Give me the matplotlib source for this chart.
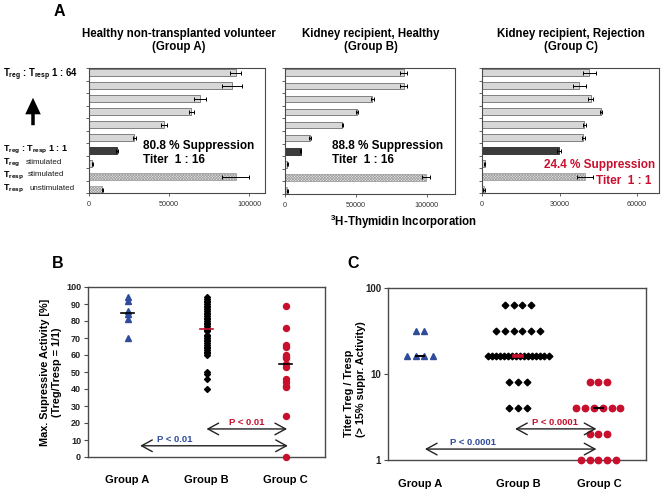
import numpy as np
import matplotlib
matplotlib.use('Agg')
import matplotlib.pyplot as plt
from matplotlib.patches import FancyArrowPatch

plt.rcParams['font.family'] = ['Liberation Sans', 'DejaVu Sans']
plt.rcParams['mathtext.fontset'] = 'custom'
plt.rcParams['mathtext.rm'] = 'Liberation Sans'
plt.rcParams['mathtext.bf'] = 'Liberation Sans:bold'
plt.rcParams['mathtext.it'] = 'Liberation Sans:italic'
plt.rcParams['hatch.linewidth'] = 0.5

# ---------------- data ----------------
row_names = ['1:64', '1:32', '1:16', '1:8', '1:4', '1:2', '1:1',
             'Treg stimulated', 'Tresp stimulated', 'Tresp unstimulated']
cpm_groupA = [91600, 89500, 69200, 63900, 47000, 28300, 17600, 2100, 91600, 8400]
err_groupA = [3600, 6300, 3700, 1500, 2000, 1000, 500, 300, 8700, 300]
cpm_groupB = [83800, 83800, 61600, 50800, 40500, 17600, 11000, 1600, 99500, 1600]
err_groupB = [2500, 2500, 1000, 500, 500, 500, 500, 300, 2500, 300]
cpm_groupC = [41600, 37700, 42100, 46000, 39600, 39200, 29900, 1000, 39900, 800]
err_groupC = [2500, 2500, 1000, 300, 500, 500, 800, 300, 3100, 300]

panelA_titles = [("Healthy non-transplanted volunteer", "(Group A)"),
                 ("Kidney recipient, Healthy", "(Group B)"),
                 ("Kidney recipient, Rejection", "(Group C)")]
suppression_lines = [("80.8 % Suppression", "Titer  1 : 16"),
                     ("88.8 % Suppression", "Titer  1 : 16"),
                     ("24.4 % Suppression", "Titer  1 : 1")]
panelA_xticks = [[0, 50000, 100000], [0, 50000, 100000], [0, 30000, 60000]]

supp_A = [94, 92, 86, 84, 81, 70]
supp_B = [94, 93, 92, 91, 90, 89, 88, 87, 86, 85, 84, 83, 82, 81, 80, 79, 78,
          77, 76, 75, 74, 72, 71, 70, 69, 68, 67, 66, 65, 64, 63, 62, 61, 60,
          50, 49, 46, 40]
supp_C = [89, 76, 66, 65, 60, 59, 58, 55, 53, 46, 44, 42, 41, 24, 0]

titer_levels = [1, 2, 4, 8, 16, 32, 64]
titer_counts_A = [0, 0, 0, 0, 4, 2, 0]
titer_counts_B = [0, 0, 3, 3, 16, 6, 4]
titer_counts_C = [5, 3, 6, 3, 0, 0, 0]

group_names = ["Group A", "Group B", "Group C"]
pB_text = ["P < 0.01", "P < 0.01"]
pC_text = ["P < 0.0001", "P < 0.0001"]

# ---------------- layout helpers ----------------
W, H = 662, 493
fig = plt.figure(figsize=(W / 100, H / 100), dpi=100)


def box(l, t, r, b):
    return [l / W, 1 - b / H, (r - l) / W, (b - t) / H]


def fp(x, y):
    return (x / W, 1 - y / H)


BLUE = '#2f4c9b'
RED = '#c8102e'
SPINE = '#4a4a4a'

# ---------------- panel A ----------------
boxesA = [box(89, 68, 265, 193), box(285, 68, 455, 194), box(482, 68, 659, 193)]
xmaxA = [110000, 120000, 68500]
cpms = [cpm_groupA, cpm_groupB, cpm_groupC]
errs = [err_groupA, err_groupB, err_groupC]
light = '#d7d7d7'
darkc = '#3c3c3c'
ypos = np.arange(len(row_names))
ylo, yhi = -0.36, len(row_names) - 1 + 0.26

for k in range(3):
    ax = fig.add_axes(boxesA[k])
    for i, (v, e) in enumerate(zip(cpms[k], errs[k])):
        if i < 6 or i == 7:
            ax.barh(ypos[i], v, height=0.5, color=light, edgecolor='#707070', linewidth=0.6)
        elif i == 6:
            ax.barh(ypos[i], v, height=0.5, color=darkc, edgecolor='#2a2a2a', linewidth=0.6)
        else:
            ax.barh(ypos[i], v, height=0.5, color='#e6e6e6', edgecolor='#a0a0a0',
                    linewidth=0.6, hatch='x' * 12)
    ax.errorbar(cpms[k], ypos, xerr=errs[k], fmt='none', ecolor='black',
                elinewidth=0.7, capsize=1.6, capthick=0.7)
    ax.set_xlim(0, xmaxA[k])
    ax.set_ylim(yhi, ylo)
    ax.set_yticks(np.linspace(ylo, yhi, 11))
    ax.set_yticklabels([])
    ax.set_xticks(panelA_xticks[k])
    ax.set_xticklabels([str(t) for t in panelA_xticks[k]])
    ax.tick_params(axis='both', length=2, width=0.6, color=SPINE, labelsize=5.2,
                   labelcolor='#333333', pad=4)
    for s in ax.spines.values():
        s.set_color(SPINE)
        s.set_linewidth(0.8)

title_cx = [179, 371, 571]
for k in range(3):
    fig.text(*fp(title_cx[k], 37.5), panelA_titles[k][0], ha='center', va='baseline',
             fontsize=8.3, weight='bold')
    fig.text(*fp(title_cx[k], 50), panelA_titles[k][1], ha='center', va='baseline',
             fontsize=8.3, weight='bold')

# suppression annotations
fig.text(*fp(143, 149), suppression_lines[0][0], fontsize=8.5, weight='bold', va='baseline')
fig.text(*fp(143, 163), suppression_lines[0][1], fontsize=8.5, weight='bold', va='baseline')
fig.text(*fp(332, 149), suppression_lines[1][0], fontsize=8.5, weight='bold', va='baseline')
fig.text(*fp(332, 163), suppression_lines[1][1], fontsize=8.5, weight='bold', va='baseline')
fig.text(*fp(655, 168), suppression_lines[2][0], fontsize=8.5, weight='bold', va='baseline',
         ha='right', color=RED)
fig.text(*fp(652, 184), suppression_lines[2][1], fontsize=8.5, weight='bold', va='baseline',
         ha='right', color=RED)

fig.text(*fp(403, 226), r"$^{\mathbf{3}}$H-Thymidin Incorporation", ha='center',
         va='baseline', fontsize=8.3, weight='bold')

# left-side row labels
lab_fs = 6.5
small_fs = 5.8
fig.text(*fp(3, 77), r"$\mathbf{T}_{\mathbf{reg}}$ : $\mathbf{T}_{\mathbf{resp}}$ 1 : 64",
         fontsize=6.9, weight='bold', va='baseline')
fig.text(*fp(3, 152), r"$\mathbf{T}_{\mathbf{reg}}$ : $\mathbf{T}_{\mathbf{resp}}$ 1 : 1",
         fontsize=lab_fs, weight='bold', va='baseline')
fig.text(*fp(3, 164.5), r"$\mathbf{T}_{\mathbf{reg}}$", fontsize=lab_fs, va='baseline')
fig.text(*fp(26, 164), "stimulated", fontsize=small_fs, va='baseline', color='#1a1a1a')
fig.text(*fp(3, 177), r"$\mathbf{T}_{\mathbf{resp}}$", fontsize=lab_fs, va='baseline')
fig.text(*fp(27.5, 176.5), "stimulated", fontsize=small_fs, va='baseline', color='#1a1a1a')
fig.text(*fp(3, 190), r"$\mathbf{T}_{\mathbf{resp}}$", fontsize=lab_fs, va='baseline')
fig.text(*fp(29.5, 189.5), "unstimulated", fontsize=small_fs, va='baseline', color='#1a1a1a')

arr = FancyArrowPatch(fp(33, 128), fp(33, 95), transform=fig.transFigure,
                      arrowstyle='simple,head_length=0.85,head_width=0.8,tail_width=0.18',
                      mutation_scale=14, color='black', lw=0)
fig.add_artist(arr)

# panel letters
fig.text(*fp(59, 11), "A", fontsize=11.5, weight='bold', ha='center', va='center')
fig.text(*fp(57.5, 264), "B", fontsize=11.5, weight='bold', ha='center', va='center')
fig.text(*fp(353.5, 263.5), "C", fontsize=11.5, weight='bold', ha='center', va='center')

# ---------------- panel B ----------------
axB = fig.add_axes(box(88, 287, 325, 457))
posB = [1, 2, 3]
axB.plot([posB[0]] * len(supp_A), supp_A, '^', color=BLUE, ms=4.2, clip_on=False, zorder=3)
axB.plot([posB[1]] * len(supp_B), supp_B, 'D', color='black', ms=3.0, clip_on=False, zorder=3)
axB.plot([posB[2]] * len(supp_C), supp_C, 'o', color=RED, ms=4.3, clip_on=False, zorder=3)
for x, vals, c in zip(posB, [supp_A, supp_B, supp_C], ['black', RED, 'black']):
    m = np.median(vals)
    axB.plot([x - 0.08, x + 0.08], [m, m], color=c, lw=1.2, zorder=4)
axB.set_xlim(0.5, 3.5)
axB.set_ylim(0, 100)
axB.set_yticks(np.arange(0, 101, 10))
axB.set_xticks(posB)
axB.set_xticklabels(group_names, fontsize=8, weight='bold')
axB.tick_params(axis='x', length=0, pad=13)
axB.tick_params(axis='y', length=3, width=0.8, color=SPINE, labelsize=6.5, pad=2)
for lbl in axB.get_yticklabels():
    lbl.set_fontweight('bold')
    lbl.set_color('#222222')
for s in axB.spines.values():
    s.set_color(SPINE)
    s.set_linewidth(1.0)

aprops = dict(arrowstyle='<->,head_length=0.55,head_width=0.3', lw=1.0, color='#222222',
              shrinkA=0, shrinkB=0, mutation_scale=14)
axB.annotate('', xy=(2.0, 16.5), xytext=(3.02, 16.5), arrowprops=aprops)
axB.annotate('', xy=(1.16, 6.6), xytext=(3.03, 6.6), arrowprops=aprops)
axB.text(2.51, 18.6, pB_text[0], color=RED, ha='center', va='baseline', fontsize=6.8, weight='bold')
axB.text(1.60, 8.6, pB_text[1], color=BLUE, ha='center', va='baseline', fontsize=6.8, weight='bold')

fig.text(*fp(51, 372), "Max. Supressive Activity [%]\n(Treg/Tresp = 1/1)", rotation=90,
         ha='center', va='center', multialignment='center', fontsize=7.8, weight='bold',
         linespacing=1.15)

# ---------------- panel C ----------------
axC = fig.add_axes(box(388, 288, 646, 460))
posC = [1, 2, 2.82]
styles = [('^', BLUE, 4.6), ('D', 'black', 3.4), ('o', RED, 4.6)]
px_per_unit = 98.0
for g, counts in enumerate([titer_counts_A, titer_counts_B, titer_counts_C]):
    mk, col, ms = styles[g]
    for lev, n in zip(titer_levels, counts):
        if n == 0:
            continue
        sp = min(8.8, 61.0 / max(n - 1, 1)) / px_per_unit
        xs = posC[g] + (np.arange(n) - (n - 1) / 2) * sp
        axC.plot(xs, [lev] * n, mk, color=col, ms=ms, clip_on=False, zorder=3)

med_cols = ['black', RED, 'black']
for g, counts in enumerate([titer_counts_A, titer_counts_B, titer_counts_C]):
    vals = np.repeat(titer_levels, counts)
    m = np.median(vals)
    w = 0.045 if g != 1 else 0.04
    axC.plot([posC[g] - w, posC[g] + w], [m, m], color=med_cols[g],
             lw=1.5 if g != 1 else 2.6, zorder=4)

axC.set_yscale('log')
axC.set_ylim(1, 100)
axC.set_xlim(0.673, 3.306)
axC.set_yticks([1, 10, 100])
axC.set_yticklabels(['1', '10', '100'])
axC.minorticks_off()
axC.set_xticks([1, 2, 2.83])
axC.set_xticklabels(group_names, fontsize=8, weight='bold')
axC.tick_params(axis='x', length=0, pad=14)
axC.tick_params(axis='y', length=3, width=0.8, color=SPINE, labelsize=7, pad=2)
for lbl in axC.get_yticklabels():
    lbl.set_fontweight('bold')
    lbl.set_color('#222222')
for s in axC.spines.values():
    s.set_color(SPINE)
    s.set_linewidth(1.0)

axC.annotate('', xy=(1.97, 2.3), xytext=(2.80, 2.3), arrowprops=aprops)
axC.annotate('', xy=(1.05, 1.34), xytext=(2.80, 1.34), arrowprops=aprops)
axC.text(2.38, 2.53, pC_text[0], color=RED, ha='center', va='baseline', fontsize=6.8, weight='bold')
axC.text(1.54, 1.49, pC_text[1], color=BLUE, ha='center', va='baseline', fontsize=6.8, weight='bold')

fig.text(*fp(355, 437), "Titer Treg / Tresp\n(> 15% suppr. Activity)", rotation=90,
         ha='center', va='bottom', multialignment='left', fontsize=7.8, weight='bold',
         linespacing=1.15)

fig.savefig('out.png', dpi=100)
